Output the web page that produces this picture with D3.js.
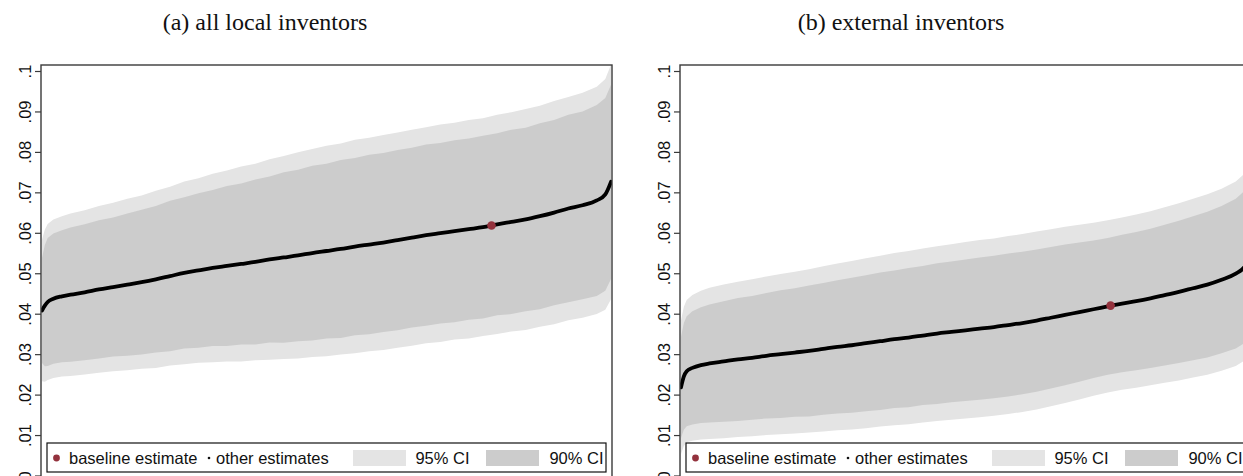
<!DOCTYPE html>
<html>
<head>
<meta charset="utf-8">
<script src="https://cdn.jsdelivr.net/npm/d3@7"></script>
<style>
  html, body { margin: 0; padding: 0; background: #fff; }
  svg { display: block; }
</style>
</head>
<body>
<svg id="chart" width="1243" height="476"></svg>
<script>
// specification rank (percentile of the sorted estimates)
const rank = [0, 0.5, 1, 2, 3.5, 5, 7.5, 10, 12.5, 15, 17.5, 20, 22.5, 25, 27.5, 30, 32.5, 35, 37.5, 40,
  42.5, 45, 47.5, 50, 52.5, 55, 57.5, 60, 62.5, 65, 67.5, 70, 72.5, 75, 77.5, 80, 82.5, 85, 87.5, 90,
  92.5, 95, 97.5, 99, 100];

// (a) all local inventors
const estLocal = [0.0408, 0.0420, 0.0429, 0.0437, 0.0443, 0.0447, 0.0453, 0.0460, 0.0466, 0.0472,
  0.0478, 0.0485, 0.0493, 0.0501, 0.0507, 0.0513, 0.0518, 0.0523, 0.0528, 0.0534,
  0.0539, 0.0544, 0.0550, 0.0555, 0.0560, 0.0566, 0.0571, 0.0576, 0.0582, 0.0588,
  0.0594, 0.0599, 0.0604, 0.0609, 0.0614, 0.0621, 0.0627, 0.0633, 0.0641, 0.0650,
  0.0660, 0.0668, 0.0680, 0.0695, 0.0726];
const half90Local = [0.0130, 0.0150, 0.0158, 0.0161, 0.0163, 0.0166, 0.0168, 0.0171, 0.0172, 0.0176,
  0.0179, 0.0181, 0.0186, 0.0187, 0.0191, 0.0193, 0.0198, 0.0199, 0.0204, 0.0205,
  0.0211, 0.0212, 0.0216, 0.0216, 0.0220, 0.0219, 0.0222, 0.0221, 0.0223, 0.0222,
  0.0224, 0.0223, 0.0225, 0.0224, 0.0226, 0.0225, 0.0228, 0.0227, 0.0230, 0.0229,
  0.0232, 0.0232, 0.0236, 0.0238, 0.0240];
const half95Local = [0.0175, 0.0188, 0.0193, 0.0196, 0.0198, 0.0201, 0.0203, 0.0206, 0.0208, 0.0212,
  0.0214, 0.0219, 0.0221, 0.0226, 0.0228, 0.0233, 0.0236, 0.0241, 0.0243, 0.0248,
  0.0251, 0.0255, 0.0257, 0.0260, 0.0261, 0.0264, 0.0264, 0.0266, 0.0266, 0.0267,
  0.0267, 0.0269, 0.0268, 0.0270, 0.0269, 0.0271, 0.0271, 0.0273, 0.0273, 0.0276,
  0.0276, 0.0278, 0.0281, 0.0285, 0.0290];
const baselineLocal = { rank: 79, value: 0.0618 };

// (b) external inventors
const estExternal = [0.0218, 0.0245, 0.0258, 0.0266, 0.0273, 0.0277, 0.0282, 0.0287, 0.0291, 0.0296,
  0.0300, 0.0304, 0.0308, 0.0313, 0.0318, 0.0322, 0.0327, 0.0332, 0.0337, 0.0341,
  0.0346, 0.0351, 0.0355, 0.0359, 0.0363, 0.0367, 0.0372, 0.0377, 0.0383, 0.0390,
  0.0397, 0.0404, 0.0411, 0.0418, 0.0425, 0.0431, 0.0438, 0.0446, 0.0454, 0.0463,
  0.0472, 0.0484, 0.0499, 0.0515, 0.0540];
const half90External = [0.0125, 0.0132, 0.0136, 0.0140, 0.0143, 0.0146, 0.0149, 0.0152, 0.0153, 0.0155,
  0.0158, 0.0159, 0.0162, 0.0163, 0.0165, 0.0167, 0.0168, 0.0170, 0.0170, 0.0172,
  0.0172, 0.0174, 0.0174, 0.0175, 0.0176, 0.0176, 0.0177, 0.0176, 0.0176, 0.0175,
  0.0174, 0.0172, 0.0170, 0.0169, 0.0170, 0.0171, 0.0172, 0.0174, 0.0176, 0.0178,
  0.0180, 0.0182, 0.0185, 0.0188, 0.0192];
const half95External = [0.0165, 0.0172, 0.0176, 0.0180, 0.0184, 0.0187, 0.0190, 0.0192, 0.0194, 0.0196,
  0.0198, 0.0200, 0.0202, 0.0204, 0.0206, 0.0208, 0.0210, 0.0211, 0.0213, 0.0214,
  0.0215, 0.0216, 0.0217, 0.0218, 0.0219, 0.0219, 0.0220, 0.0220, 0.0220, 0.0219,
  0.0218, 0.0216, 0.0214, 0.0213, 0.0213, 0.0214, 0.0215, 0.0217, 0.0219, 0.0221,
  0.0223, 0.0225, 0.0228, 0.0231, 0.0235];
const baselineExternal = { rank: 75.5, value: 0.0420 };

const yTicks = [0, 0.01, 0.02, 0.03, 0.04, 0.05, 0.06, 0.07, 0.08, 0.09, 0.1];
const yTickLabels = ['0', '.01', '.02', '.03', '.04', '.05', '.06', '.07', '.08', '.09', '.1'];
const panelTitles = ['(a) all local inventors', '(b) external inventors'];
const legendLabels = ['baseline estimate', 'other estimates', '95% CI', '90% CI'];

const colors = {
  ci95: '#e4e4e4', ci90: '#cccccc', line: '#000', baseline: '#93323d', frame: '#3a3a3a',
};
const sansFont = '"Liberation Sans", Arial, Helvetica, sans-serif';

const svg = d3.select('#chart');

const panels = [
  {
    left: 41, title: panelTitles[0], titleX: 265, est: estLocal, h90: half90Local, h95: half95Local, base: baselineLocal,
  },
  {
    left: 680, title: panelTitles[1], titleX: 901, est: estExternal, h90: half90External, h95: half95External, base: baselineExternal,
  },
];

const plotWidth = 571;
const plotTop = 65;
const plotBottom = 482;

const y = d3.scaleLinear().domain([0, 0.1]).range([475.5, 71]);

panels.forEach((p, pi) => {
  const x = d3.scaleLinear().domain([0, 100]).range([p.left + 1, p.left + plotWidth - 1]);
  const rows = rank.map((r, i) => ({
    r, est: p.est[i], h90: p.h90[i], h95: p.h95[i],
  }));

  const clipId = `clip${pi}`;
  svg.append('clipPath').attr('id', clipId)
    .append('rect')
    .attr('x', p.left)
    .attr('y', plotTop)
    .attr('width', plotWidth)
    .attr('height', plotBottom - plotTop);

  const g = svg.append('g').attr('clip-path', `url(#${clipId})`);

  g.append('path')
    .datum(rows)
    .attr('fill', colors.ci95)
    .attr('d', d3.area()
      .x((d) => x(d.r))
      .y0((d) => y(d.est - d.h95))
      .y1((d) => y(d.est + d.h95)));

  g.append('path')
    .datum(rows)
    .attr('fill', colors.ci90)
    .attr('d', d3.area()
      .x((d) => x(d.r))
      .y0((d) => y(d.est - d.h90))
      .y1((d) => y(d.est + d.h90)));

  g.append('path')
    .datum(rows)
    .attr('fill', 'none')
    .attr('stroke', colors.line)
    .attr('stroke-width', 3.8)
    .attr('stroke-linecap', 'round')
    .attr('stroke-linejoin', 'round')
    .attr('d', d3.line()
      .x((d) => x(d.r))
      .y((d) => y(d.est))
      .curve(d3.curveMonotoneX));

  g.append('circle')
    .attr('cx', x(p.base.rank))
    .attr('cy', y(p.base.value))
    .attr('r', 4.3)
    .attr('fill', colors.baseline);

  // plot region outline
  svg.append('rect')
    .attr('x', p.left)
    .attr('y', plotTop)
    .attr('width', plotWidth)
    .attr('height', plotBottom - plotTop)
    .attr('fill', 'none')
    .attr('stroke', colors.frame)
    .attr('stroke-width', 1.4);

  // y axis
  const axis = svg.append('g')
    .attr('transform', `translate(${p.left},0)`)
    .call(d3.axisLeft(y)
      .tickValues(yTicks)
      .tickFormat((d, i) => yTickLabels[i])
      .tickSize(6)
      .tickSizeOuter(0));
  axis.select('.domain').remove();
  axis.selectAll('.tick line').attr('stroke', colors.frame).attr('stroke-width', 1.2);
  axis.selectAll('.tick text')
    .attr('x', null)
    .attr('dy', null)
    .attr('fill', '#111')
    .attr('font-family', sansFont)
    .attr('font-size', 16.5)
    .attr('text-anchor', 'middle')
    .attr('dominant-baseline', 'central')
    .attr('transform', 'translate(-16.5,0) rotate(-90)');

  // title
  svg.append('text')
    .attr('x', p.titleX)
    .attr('y', 30)
    .attr('text-anchor', 'middle')
    .attr('font-family', '"Liberation Serif", "DejaVu Serif", serif')
    .attr('font-size', 24)
    .attr('fill', '#111')
    .text(p.title);

  // legend
  const lg = svg.append('g')
    .attr('transform', `translate(${p.left + 6},443)`)
    .attr('font-family', sansFont)
    .attr('font-size', 16.5)
    .attr('fill', '#111');
  lg.append('rect')
    .attr('x', 0).attr('y', 0)
    .attr('width', 559).attr('height', 29)
    .attr('fill', '#fff')
    .attr('stroke', '#111')
    .attr('stroke-width', 1.2);
  lg.append('circle').attr('cx', 9.5).attr('cy', 15).attr('r', 3.4).attr('fill', colors.baseline);
  lg.append('text').attr('x', 22).attr('y', 21).text(legendLabels[0]);
  lg.append('circle').attr('cx', 162).attr('cy', 15).attr('r', 1.3).attr('fill', '#111');
  lg.append('text').attr('x', 169).attr('y', 21).text(legendLabels[1]);
  lg.append('rect').attr('x', 306).attr('y', 7).attr('width', 53).attr('height', 16).attr('fill', colors.ci95);
  lg.append('text').attr('x', 422.5).attr('y', 21).attr('text-anchor', 'end').text(legendLabels[2]);
  lg.append('rect').attr('x', 439).attr('y', 7).attr('width', 53).attr('height', 16).attr('fill', colors.ci90);
  lg.append('text').attr('x', 556.5).attr('y', 21).attr('text-anchor', 'end').text(legendLabels[3]);
});
</script>
</body>
</html>
